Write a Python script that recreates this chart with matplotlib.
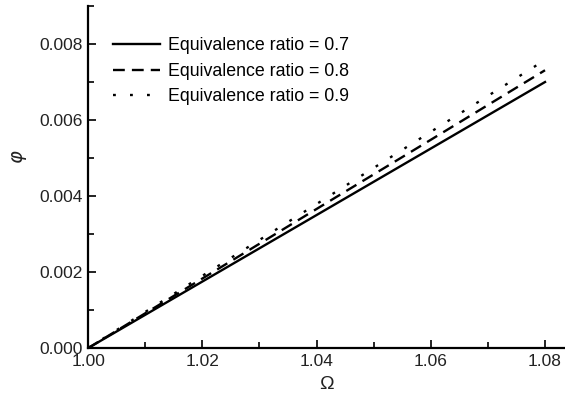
import numpy as np
import matplotlib
matplotlib.use("Agg")
import matplotlib.pyplot as plt
from matplotlib.ticker import MultipleLocator, FormatStrFormatter

plt.rcParams['font.family'] = ['Liberation Sans', 'DejaVu Sans']

omega = [1.00, 1.02, 1.04, 1.06, 1.08]
phi_07 = [0.0, 0.00175, 0.0035, 0.00525, 0.0070]
phi_08 = [0.0, 0.00183, 0.00366, 0.00548, 0.00731]
phi_09 = [0.0, 0.00190, 0.00379, 0.00569, 0.00758]
labels = ["Equivalence ratio = 0.7", "Equivalence ratio = 0.8", "Equivalence ratio = 0.9"]

fig = plt.figure(figsize=(5.65, 4.01), dpi=100)
ax = fig.add_axes([0.156, 0.132, 0.844, 0.853])

ax.plot(omega, phi_07, color="black", lw=1.7, linestyle="-", label=labels[0])
ax.plot(omega, phi_08, color="black", lw=1.7, linestyle=(0, (5, 3)), label=labels[1])
ax.plot(omega, phi_09, color="black", lw=1.7, linestyle=(0, (1.2, 6)), label=labels[2])

ax.set_xlim(1.0, 1.0835)
ax.set_ylim(0.0, 0.009)
ax.xaxis.set_major_locator(MultipleLocator(0.02))
ax.xaxis.set_minor_locator(MultipleLocator(0.01))
ax.yaxis.set_major_locator(MultipleLocator(0.002))
ax.yaxis.set_minor_locator(MultipleLocator(0.001))
ax.xaxis.set_major_formatter(FormatStrFormatter("%.2f"))
ax.yaxis.set_major_formatter(FormatStrFormatter("%.3f"))

for side in ("top", "right"):
    ax.spines[side].set_visible(False)
for side in ("left", "bottom"):
    ax.spines[side].set_linewidth(1.6)

ax.tick_params(which="major", direction="in", length=6, width=1.4, labelsize=12.5,
               colors="#222222", pad=4)
ax.tick_params(which="minor", direction="in", length=4, width=1.2)

ax.set_xlabel("Ω", fontsize=14, labelpad=5, color="#222222")
ax.set_ylabel(r"$\varphi$", fontsize=14, color="#222222")
ax.yaxis.set_label_coords(-0.125, 0.56)

ax.legend(loc="upper left", bbox_to_anchor=(0.2, 0.907), bbox_transform=fig.transFigure,
          frameon=False, fontsize=12.8, handlelength=2.65, handletextpad=0.45,
          labelspacing=0.48, borderaxespad=0, borderpad=0)

fig.savefig("out.png", dpi=100)
